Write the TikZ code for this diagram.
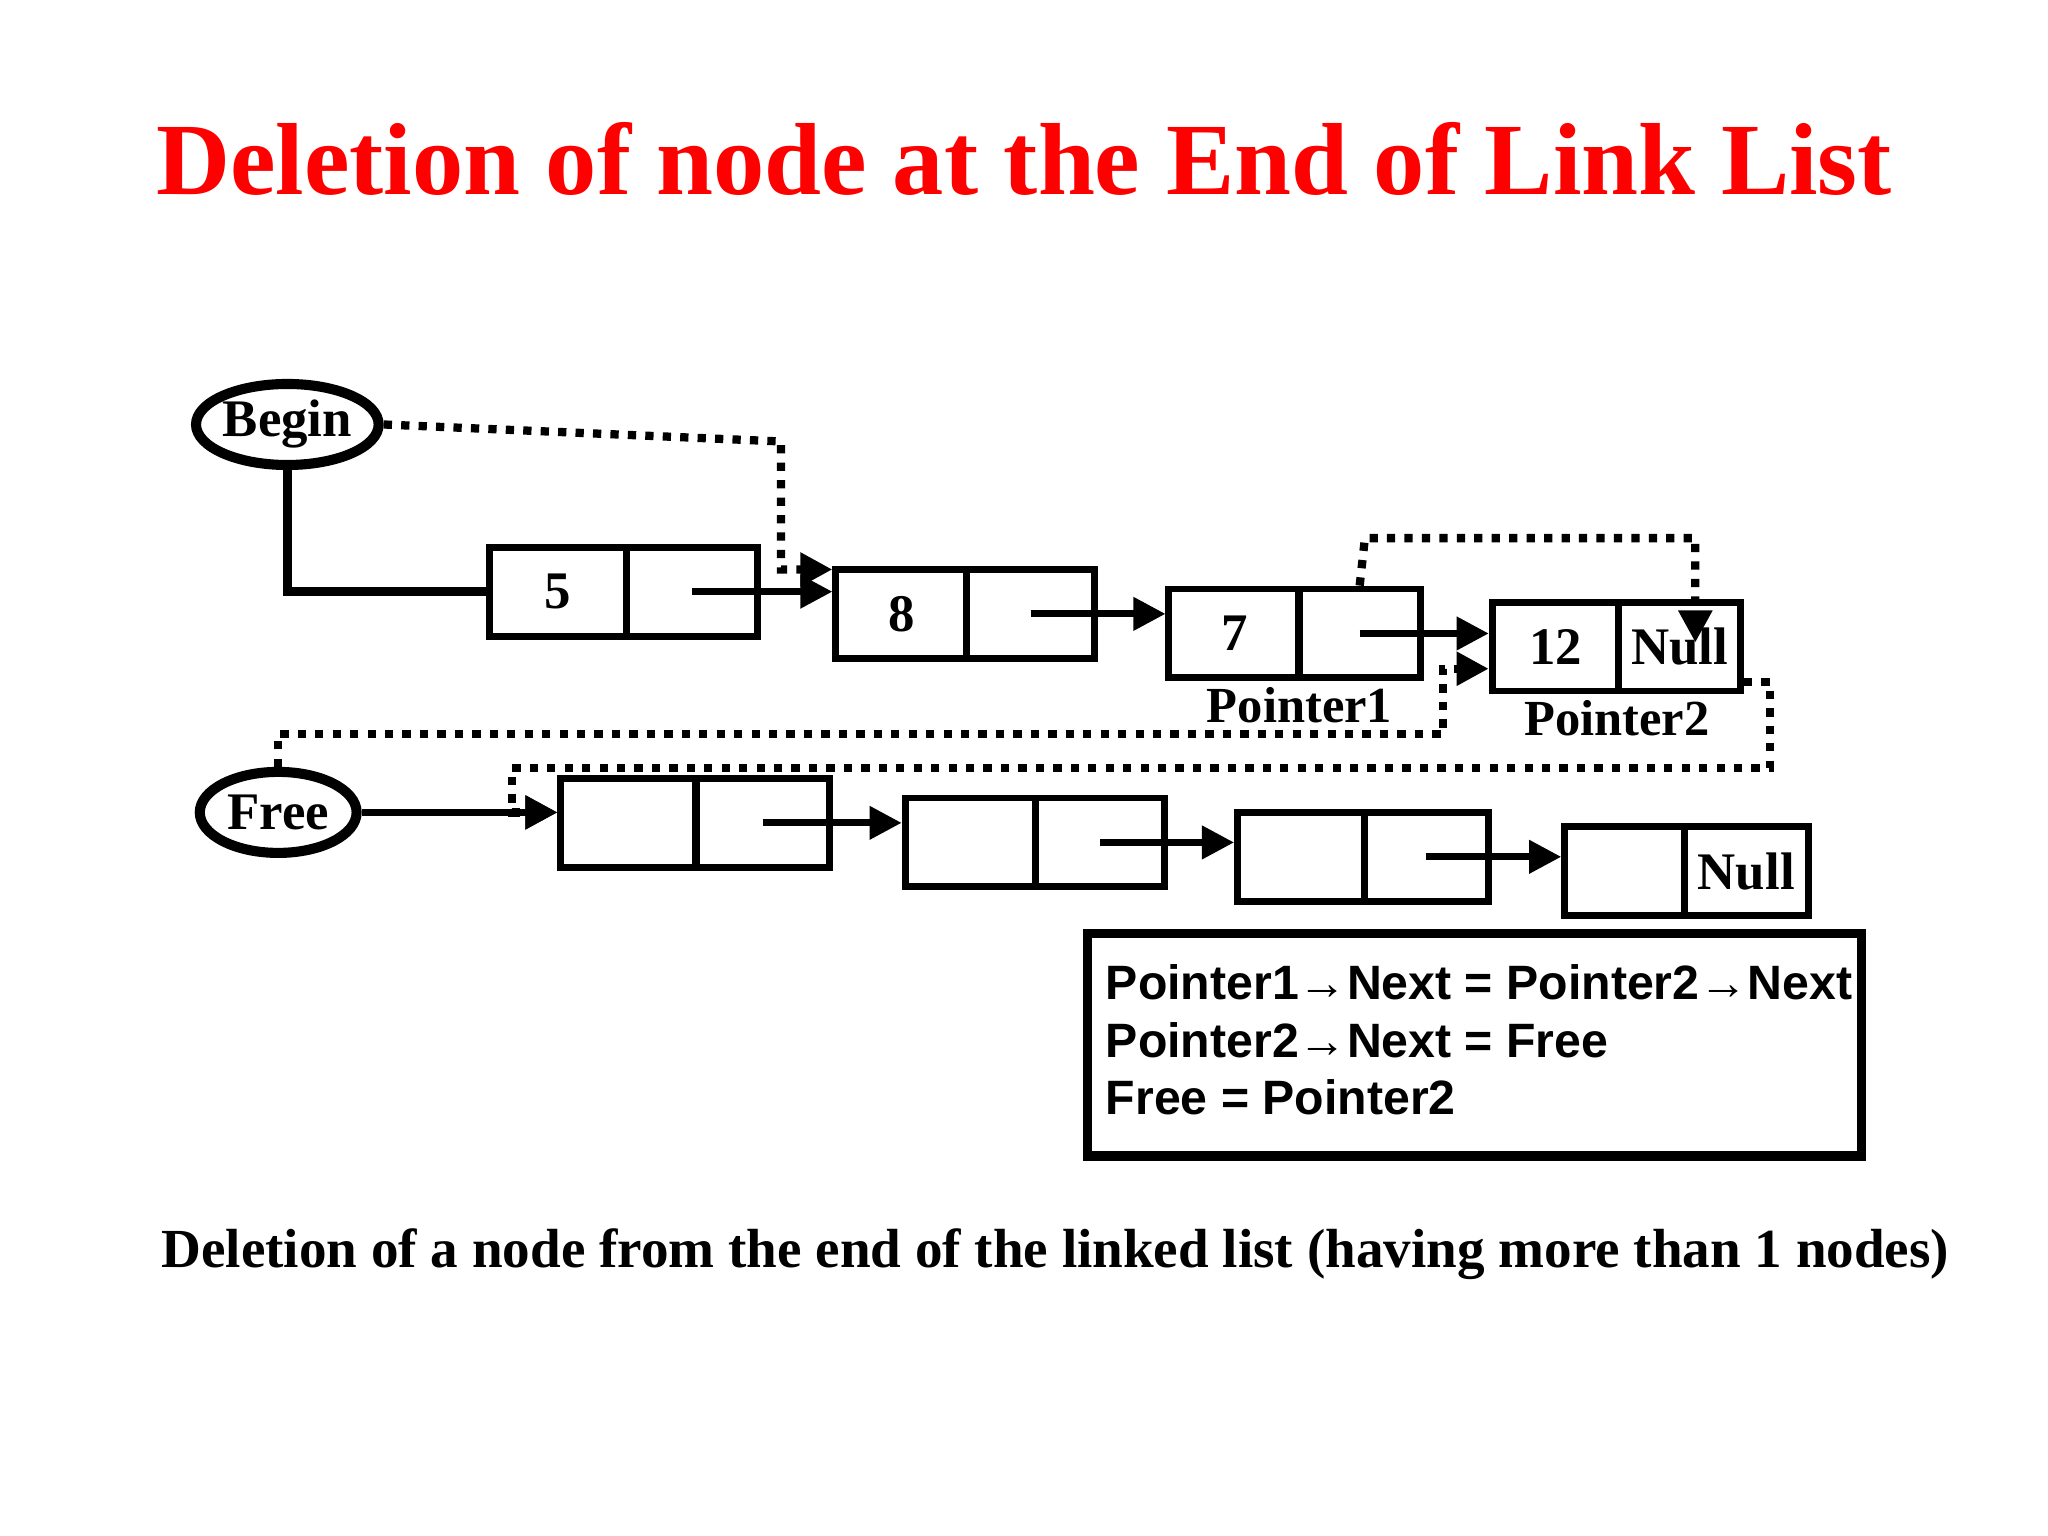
\documentclass[tikz,border=0pt]{standalone}
\usepackage{fontspec}
\setmainfont{Liberation Serif}
\newfontfamily\lsans{Liberation Sans}
\usetikzlibrary{arrows.meta,shapes.geometric}
\begin{document}
\begin{tikzpicture}[x=0.01cm,y=-0.01cm,
  cell/.style={draw,line width=1.5pt,minimum height=0.68cm,inner sep=0pt,font=\fontsize{11.5}{12}\selectfont\bfseries},
  ptr/.style={line width=1.5pt,-{Triangle[length=7pt,width=7pt]}},
  dptr/.style={line width=1.8pt,dotted,-{Triangle[length=7pt,width=7pt]}},
  oval/.style={draw,ellipse,line width=2.2pt,minimum width=1.2cm,minimum height=0.62cm,inner sep=0pt,font=\fontsize{11.5}{12}\selectfont\bfseries}]
\useasboundingbox (0,0) rectangle (1568,1176);
\node[text=red,font=\fontsize{22.3}{23}\selectfont\bfseries] (title) at (784,122) {Deletion of node at the End of Link List};
% list
\node[cell,minimum width=1.05cm] (aD) at (427,453) {5};
\node[cell,minimum width=1.0cm] (aN) at (530,453) {};
\node[cell,minimum width=1.0cm] (bD) at (690,470) {8};
\node[cell,minimum width=0.98cm] (bN) at (789,470) {};
\node[cell,minimum width=1.0cm] (cD) at (945,485) {7};
\node[cell,minimum width=0.93cm] (cN) at (1041,485) {};
\node[cell,minimum width=0.97cm] (dD) at (1191,495) {12};
\node[cell,minimum width=0.93cm] (dN) at (1286,495) {Null};
\node[font=\fontsize{11}{11}\selectfont\bfseries] (p1) at (995,540) {Pointer1};
\node[font=\fontsize{11}{11}\selectfont\bfseries] (p2) at (1238,550) {Pointer2};
% free list
\node[cell,minimum width=1.03cm] (eD) at (481,630) {};
\node[cell,minimum width=1.02cm] (eN) at (584,630) {};
\node[cell,minimum width=1.0cm] (fD) at (743,645) {};
\node[cell,minimum width=0.99cm] (fN) at (842,645) {};
\node[cell,minimum width=0.97cm] (gD) at (996,656) {};
\node[cell,minimum width=0.95cm] (gN) at (1092,656) {};
\node[cell,minimum width=0.92cm] (hD) at (1244,667) {};
\node[cell,minimum width=0.95cm] (hN) at (1337,667) {Null};
\node[oval] (begin) at (220,325) {Begin};
\node[oval] (free) at (213,622) {Free};
% pointers
\draw[ptr] (aN.center) -- (aN.center -| bD.west);
\draw[ptr] (bN.center) -- (bN.center -| cD.west);
\draw[ptr] (cN.center) -- (cN.center -| dD.west);
\draw[ptr] (eN.center) -- (eN.center -| fD.west);
\draw[ptr] (fN.center) -- (fN.center -| gD.west);
\draw[ptr] (gN.center) -- (gN.center -| hD.west);
\draw[line width=2pt] (begin.south) |- (aD.west);
\draw[ptr] (free.east) -- (free.east -| eD.west);
% dotted
\draw[dptr] (begin.east) -- (598,338) -- (598,436) -- (bD.west |- 0,436);
\draw[dptr] (cN.north) -- (1045,412) -- (1298,412) -- (1298,492);
\draw[dptr] (free.north) -- (213,562) -- (1105,562) -- (1105,512) -- (dD.west |- 0,512);
\draw[dptr] (dN.east |- 0,522) -- (1355,522) -- (1355,588) -- (392,588) -- (392,622) -- (eD.west |- 0,622);
% legend
\node[draw,line width=2pt,minimum width=5.92cm,minimum height=1.7cm] (legend) at (1129,800) {};
\node[anchor=north west,align=left,inner sep=0pt,font=\lsans\fontsize{10.5}{12.5}\selectfont\bfseries] (ltext) at (846,738)
 {Pointer1→Next = Pointer2→Next\\Pointer2→Next = Free\\Free = Pointer2};
\node[font=\fontsize{12}{13}\selectfont\bfseries] (cap) at (808,960) {Deletion of a node from the end of the linked list (having more than 1 nodes)};
\end{tikzpicture}
\end{document}
